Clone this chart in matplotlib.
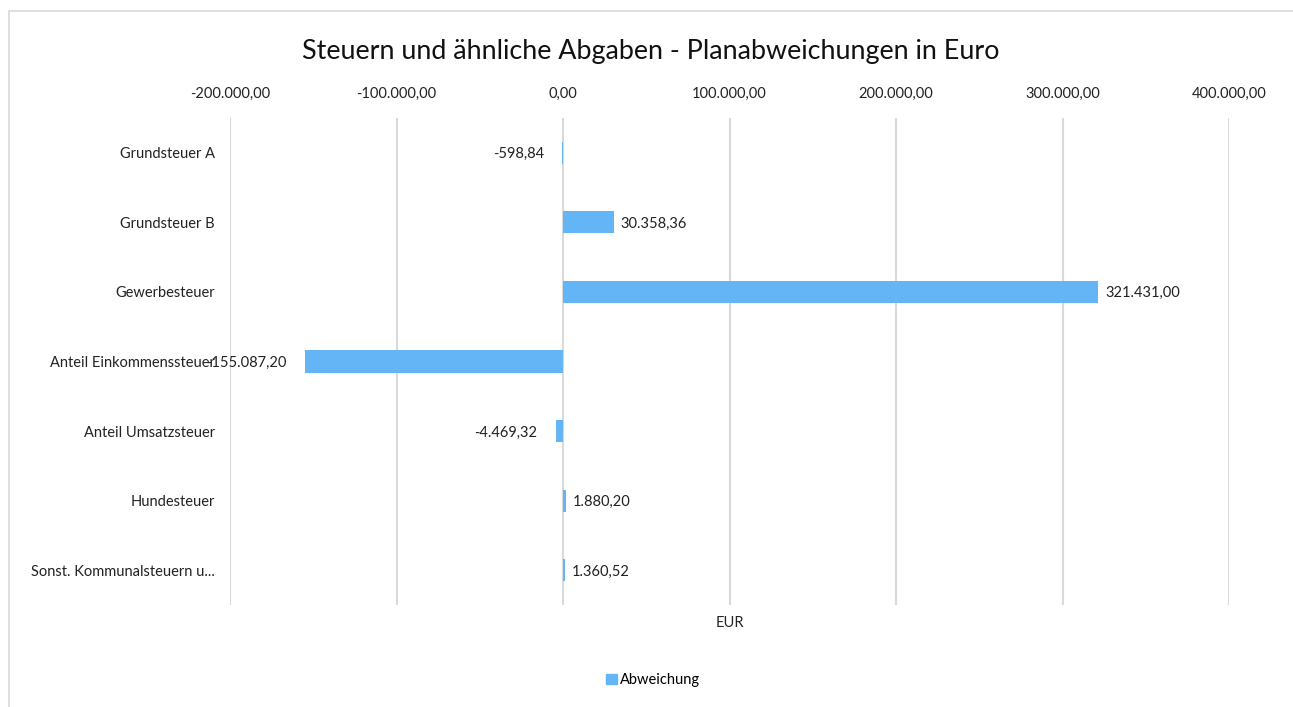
import matplotlib.pyplot as plt
from matplotlib.patches import Rectangle, Patch

# Daten
kategorien = ["Grundsteuer A", "Grundsteuer B", "Gewerbesteuer",
              "Anteil Einkommenssteuer", "Anteil Umsatzsteuer",
              "Hundesteuer", "Sonst. Kommunalsteuern u..."]
abweichung = [-598.84, 30358.36, 321431.00, -155087.20, -4469.32, 1880.20, 1360.52]
x_ticks = [-200000, -100000, 0, 100000, 200000, 300000, 400000]

plt.rcParams['font.family'] = ['Lato', 'DejaVu Sans']


def de_format(v):
    # deutsches Zahlenformat: 1.234,56
    s = f"{v:,.2f}"
    return s.replace(",", "X").replace(".", ",").replace("X", ".")


fig = plt.figure(figsize=(12.93, 7.07), dpi=100)
ax = fig.add_axes([230 / 1293, 1 - 605 / 707, (1229 - 230) / 1293, (605 - 118) / 707])

# Rahmen um das Diagramm
fig.patches.append(Rectangle((9 / 1293, -0.1), 1.2, 1.1 - 11 / 707, transform=fig.transFigure,
                             fill=False, edgecolor='#D9D9D9', lw=1.2))

farbe = '#64B5F6'
pos = list(range(len(kategorien)))
ax.barh(pos, abweichung, height=0.32, color=farbe, zorder=3)

for y, v in zip(pos, abweichung):
    if v >= 0:
        ax.annotate(de_format(v), (v, y), xytext=(5, -1), textcoords='offset points',
                    ha='left', va='center', fontsize=10.5, color='#222222')
    else:
        ax.annotate(de_format(v), (v, y), xytext=(-13, -1), textcoords='offset points',
                    ha='right', va='center', fontsize=10.5, color='#222222')

ax.set_xlim(-200000, 400000)
ax.set_ylim(len(kategorien) - 0.5, -0.5)
ax.set_xticks(x_ticks)
ax.set_xticklabels([de_format(t) for t in x_ticks], fontsize=10.5, color='#222222')
ax.xaxis.tick_top()
ax.tick_params(axis='x', length=0, pad=12)
ax.set_yticks(pos)
ax.set_yticklabels(kategorien, fontsize=10.5, color='#222222')
ax.tick_params(axis='y', length=0, pad=11)
ax.grid(axis='x', color='#D9D9D9', lw=1.5, zorder=0)
for s in ax.spines.values():
    s.set_visible(False)

ax.xaxis.set_label_position('bottom')
ax.set_xlabel("EUR", fontsize=10.5, color='#222222', labelpad=8)

fig.text(0.503, 1 - 52 / 707, "Steuern und ähnliche Abgaben - Planabweichungen in Euro",
         ha='center', va='center', fontsize=19.4, color='#111111')

fig.legend(handles=[Patch(color=farbe, label="Abweichung")], loc='center',
           bbox_to_anchor=(0.505, 1 - 680 / 707), frameon=False, fontsize=10.5,
           handlelength=0.7, handleheight=0.7, handletextpad=0.2)

fig.savefig("out.png", dpi=100, facecolor='white')
